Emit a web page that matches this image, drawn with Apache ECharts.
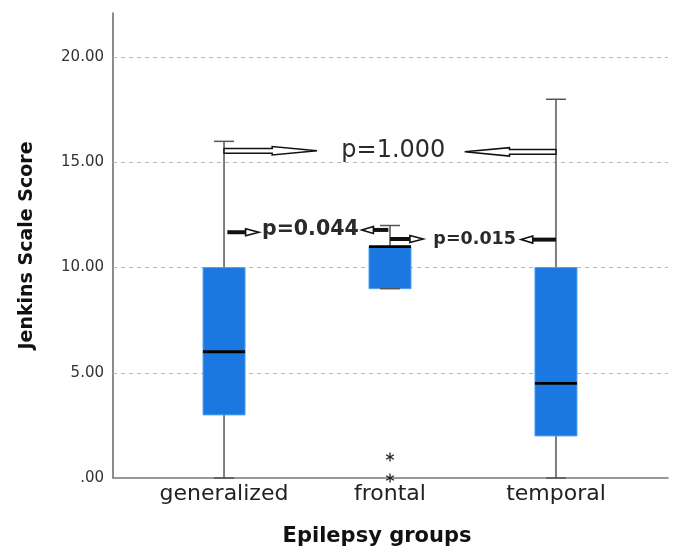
<!DOCTYPE html>
<html>
<head>
<meta charset="utf-8">
<script src="https://cdn.jsdelivr.net/npm/echarts@6/dist/echarts.min.js"></script>
<style>
html,body{margin:0;padding:0;background:#fff;}
#chart{width:675px;height:552px;}
</style>
</head>
<body>
<div id="chart"></div>
<script>
// ---- data ----
const categories = ['generalized', 'frontal', 'temporal'];
const boxMin    = [0, 9, 0];
const boxQ1     = [3, 9, 2];
const boxMedian = [6, 11, 4.5];
const boxQ3     = [10, 11, 10];
const boxMax    = [16, 12, 18];
// extreme values: [category index, value]
const outliers = [[1, 1], [1, 0]];
const yTicks = [0, 5, 10, 15, 20];
const yTickLabels = ['.00', '5.00', '10.00', '15.00', '20.00'];

// ---- annotations (in data coordinates: x = category index) ----
const annotationTexts = ['p=1.000', 'p=0.044', 'p=0.015'];
const annotationTextX = [1.02, 0.52, 1.51];
const annotationTextY = [15.55, 11.8, 11.33];
const annotationTextStyle = ['normal 24px', 'bold 20.5px', 'bold 17.5px'];
// arrows: tail x, head-base x, tip x, y, kind
const arrowTail = [0, 2, 0.02, 0.99, 1.0, 2.0];
const arrowHeadBase = [0.29, 1.72, 0.13, 0.90, 1.12, 1.86];
const arrowTip = [0.56, 1.45, 0.21, 0.83, 1.20, 1.79];
const arrowY = [15.55, 15.5, 11.68, 11.79, 11.36, 11.33];
const arrowKind = ['big', 'big', 'small', 'small', 'small', 'small'];

const FONT = '"DejaVu Sans", Verdana, sans-serif';
const chart = echarts.init(document.getElementById('chart'));

const xMin = -0.669, xMax = 2.675, yMin = 0, yMax = 22.1;

const boxData = categories.map((c, i) => [i, boxMin[i], boxQ1[i], boxMedian[i], boxQ3[i], boxMax[i]]);

function renderBox(params, api) {
  const i = api.value(0);
  const half = 21, capHalf = 10;
  const pMin = api.coord([i, api.value(1)]);
  const pQ1 = api.coord([i, api.value(2)]);
  const pMed = api.coord([i, api.value(3)]);
  const pQ3 = api.coord([i, api.value(4)]);
  const pMax = api.coord([i, api.value(5)]);
  const x = pMed[0];
  const wStyle = { stroke: '#555', lineWidth: 1.5 };
  return {
    type: 'group',
    children: [
      { type: 'line', shape: { x1: x, y1: pMax[1], x2: x, y2: pQ3[1] }, style: wStyle },
      { type: 'line', shape: { x1: x, y1: pQ1[1], x2: x, y2: pMin[1] }, style: wStyle },
      { type: 'rect', shape: { x: x - half, y: pQ3[1], width: 2 * half, height: pQ1[1] - pQ3[1] },
        style: { fill: '#1a78e0', stroke: '#4fa0f0', lineWidth: 1 } },
      { type: 'line', shape: { x1: x - half, y1: pMed[1], x2: x + half, y2: pMed[1] },
        style: { stroke: '#000', lineWidth: 2.8 } },
      { type: 'line', shape: { x1: x - capHalf, y1: pMax[1], x2: x + capHalf, y2: pMax[1] }, style: wStyle },
      { type: 'line', shape: { x1: x - capHalf, y1: pMin[1], x2: x + capHalf, y2: pMin[1] }, style: wStyle }
    ]
  };
}

function renderStar(params, api) {
  const p = api.coord([api.value(0), api.value(1)]);
  const r = 4.5;
  const children = [];
  for (let k = 0; k < 3; k++) {
    const a = Math.PI / 2 + k * Math.PI / 3;
    children.push({ type: 'line',
      shape: { x1: p[0] - r * Math.cos(a), y1: p[1] - r * Math.sin(a), x2: p[0] + r * Math.cos(a), y2: p[1] + r * Math.sin(a) },
      style: { stroke: '#222', lineWidth: 1.3 } });
  }
  return { type: 'group', children };
}

chart.setOption({
  animation: false,
  backgroundColor: '#fff',
  grid: [
    { left: 113, right: 7, top: 13, bottom: 74 },
    { left: 141, right: 36, top: 13, bottom: 74 }
  ],
  xAxis: [
    { type: 'value', gridIndex: 0, min: xMin, max: xMax,
      axisLine: { show: true, onZero: false, lineStyle: { color: '#777', width: 1.5 } },
      axisTick: { show: false }, axisLabel: { show: false }, splitLine: { show: false } },
    { type: 'category', gridIndex: 1, data: categories,
      axisLine: { show: false, onZero: false }, axisTick: { show: false }, splitLine: { show: false },
      axisLabel: { color: '#222', fontSize: 22, fontFamily: FONT, margin: 12, interval: 0, hideOverlap: false },
      name: 'Epilepsy groups', nameLocation: 'middle', nameGap: 55,
      nameTextStyle: { color: '#111', fontSize: 21, fontWeight: 'bold', fontFamily: FONT, padding: [0, 26, 0, 0] } }
  ],
  yAxis: [
    { type: 'value', gridIndex: 0, min: yMin, max: yMax, interval: 5,
      axisLine: { show: true, onZero: false, lineStyle: { color: '#666', width: 1.5 } },
      axisTick: { show: false }, splitLine: { show: false },
      axisLabel: { color: '#333', fontSize: 15, fontFamily: FONT, margin: 9,
        formatter: v => { const k = yTicks.indexOf(v); return k >= 0 ? yTickLabels[k] : ''; } },
      name: 'Jenkins Scale Score', nameLocation: 'middle', nameGap: 76, nameRotate: 90,
      nameTextStyle: { color: '#111', fontSize: 19, fontWeight: 'bold', fontFamily: FONT } },
    { type: 'value', gridIndex: 1, min: yMin, max: yMax, show: false, axisLine: { onZero: false } }
  ],
  series: [
    { type: 'line', xAxisIndex: 0, yAxisIndex: 0, data: [], z: 1, silent: true,
      markLine: { silent: true, symbol: ['none', 'none'], z: 1, label: { show: false },
        lineStyle: { color: '#b8b8b8', type: [4, 4], width: 1 },
        data: yTicks.filter(v => v > 0).map(v => ({ yAxis: v })) } },
    { type: 'custom', xAxisIndex: 0, yAxisIndex: 0, z: 3, renderItem: renderBox,
      encode: { x: 0, y: [1, 2, 3, 4, 5] }, data: boxData },
    { type: 'custom', xAxisIndex: 0, yAxisIndex: 0, z: 4, renderItem: renderStar,
      encode: { x: 0, y: 1 }, data: outliers }
  ]
});

// annotation overlays, placed via the chart's own coordinate conversion
const g = [];
const px = (x, y) => chart.convertToPixel({ gridIndex: 0 }, [x, y]);
for (let k = 0; k < arrowTail.length; k++) {
  const t = px(arrowTail[k], arrowY[k]);
  const hb = px(arrowHeadBase[k], arrowY[k]);
  const tp = px(arrowTip[k], arrowY[k]);
  const y = t[1];
  if (arrowKind[k] === 'big') {
    const s = 2.4, h = 4.2;
    g.push({ type: 'polygon', z: 10,
      shape: { points: [[t[0], y - s], [hb[0], y - s], [hb[0], y - h], [tp[0], y], [hb[0], y + h], [hb[0], y + s], [t[0], y + s]] },
      style: { fill: '#fff', stroke: '#111', lineWidth: 1.5 } });
  } else {
    g.push({ type: 'line', z: 10, shape: { x1: t[0], y1: y, x2: hb[0], y2: y },
      style: { stroke: '#111', lineWidth: 4 } });
    g.push({ type: 'polygon', z: 10,
      shape: { points: [[hb[0], y - 3.5], [tp[0], y], [hb[0], y + 3.5]] },
      style: { fill: '#fff', stroke: '#111', lineWidth: 1.6 } });
  }
}
for (let k = 0; k < annotationTexts.length; k++) {
  const p = px(annotationTextX[k], annotationTextY[k]);
  g.push({ type: 'text', z: 11, x: p[0], y: p[1],
    style: { text: annotationTexts[k], font: annotationTextStyle[k] + ' ' + FONT, fill: '#2a2a2a',
      align: 'center', verticalAlign: 'middle', textAlign: 'center', textVerticalAlign: 'middle' } });
}
chart.setOption({ graphic: g });
</script>
</body>
</html>
